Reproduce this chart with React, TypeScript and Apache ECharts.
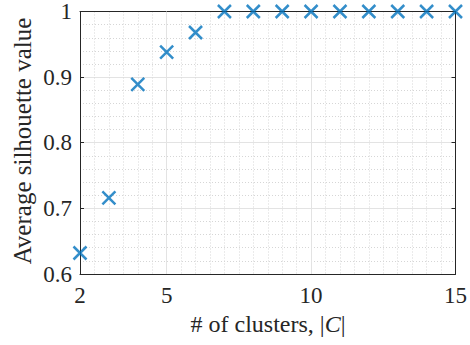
import React, { useEffect, useRef } from "react";
import * as echarts from "echarts";

const clusters = [2, 3, 4, 5, 6, 7, 8, 9, 10, 11, 12, 13, 14, 15];
const silhouette = [0.632, 0.716, 0.889, 0.938, 0.968, 1, 1, 1, 1, 1, 1, 1, 1, 1];
const xTicks = [2, 5, 10, 15];
const xMajorGrid = [5, 10];
const xTitle = "# of clusters, |{c|C}|";
const yTitle = "Average silhouette value";
const FONT = "Liberation Serif";

export default function App() {
  const ref = useRef<HTMLDivElement>(null);
  useEffect(() => {
    document.body.style.margin = "0";
    const chart = echarts.init(ref.current!, null, { renderer: "svg" });
    const axisLineColor = "#262626";
    const xCommon = { type: "value" as const, min: 2, max: 15, interval: 0.5 };
    const yCommon = { type: "value" as const, min: 0.6, max: 1, interval: 0.1 };
    chart.setOption({
      animation: false,
      backgroundColor: "#ffffff",
      textStyle: { fontFamily: FONT },
      grid: { left: 80, right: 13, top: 11, bottom: 71, containLabel: false },
      graphic: [
        {
          type: "text",
          x: 268,
          y: 324,
          style: {
            text: xTitle,
            fontFamily: FONT,
            fontSize: 24,
            fill: "#262626",
            align: "center",
            verticalAlign: "middle",
            rich: { c: { fontFamily: FONT, fontSize: 24, fontStyle: "italic", fill: "#262626" } },
          },
        },
        {
          type: "text",
          x: 22,
          y: 141,
          rotation: Math.PI / 2,
          style: {
            text: yTitle,
            fontFamily: FONT,
            fontSize: 25,
            fill: "#262626",
            align: "center",
            verticalAlign: "middle",
          },
        },
      ],
      xAxis: [
        {
          ...xCommon,
          position: "bottom",
          axisLine: { show: true, onZero: false, lineStyle: { color: axisLineColor, width: 1 } },
          axisTick: { show: true, inside: true, length: 4, customValues: xTicks, lineStyle: { color: axisLineColor } },
          axisLabel: {
            show: true,
            customValues: xTicks,
            margin: 10,
            color: "#262626",
            fontFamily: FONT,
            fontSize: 23,
            formatter: (v: number) => (xTicks.includes(v) ? String(v) : ""),
          },
          splitLine: { show: false },
        },
        {
          ...xCommon,
          position: "top",
          axisLine: { show: true, onZero: false, lineStyle: { color: axisLineColor, width: 1 } },
          axisTick: { show: false },
          axisLabel: { show: false },
          splitLine: { show: true, lineStyle: { color: "#d6d6d6", type: [1, 2], width: 1 } },
        },
      ],
      yAxis: [
        {
          ...yCommon,
          position: "left",
          axisLine: { show: true, onZero: false, lineStyle: { color: axisLineColor, width: 1 } },
          axisTick: { show: true, inside: true, length: 4, lineStyle: { color: axisLineColor } },
          axisLabel: {
            margin: 8,
            color: "#262626",
            fontFamily: FONT,
            fontSize: 23,
            formatter: (v: number) => (Math.abs(v - 1) < 1e-9 ? "1" : v.toFixed(1)),
          },
          splitLine: { show: true, lineStyle: { color: "#e3e3e3", width: 1 } },
          minorTick: { show: false, splitNumber: 5 },
          minorSplitLine: { show: true, lineStyle: { color: "#d6d6d6", type: [1, 2], width: 1 } },
        },
        {
          ...yCommon,
          position: "right",
          axisLine: { show: true, onZero: false, lineStyle: { color: axisLineColor, width: 1 } },
          axisTick: { show: true, inside: true, length: 4, lineStyle: { color: axisLineColor } },
          axisLabel: { show: false },
          splitLine: { show: false },
        },
      ],
      series: [
        {
          type: "scatter",
          xAxisIndex: 0,
          yAxisIndex: 0,
          data: [],
          silent: true,
          z: 1,
          markLine: {
            silent: true,
            symbol: "none",
            label: { show: false },
            lineStyle: { color: "#e3e3e3", type: "solid", width: 1 },
            data: xMajorGrid.map((v) => ({ xAxis: v })),
          },
        },
        {
          type: "scatter",
          xAxisIndex: 0,
          yAxisIndex: 0,
          clip: false,
          z: 5,
          symbol: "path://M0,0L10,10M10,0L0,10",
          symbolSize: 13,
          itemStyle: { color: "none", borderColor: "#0072BD", borderWidth: 2.5 },
          data: clusters.map((c, i) => [c, silhouette[i]]),
        },
      ],
    });
    return () => chart.dispose();
  }, []);
  return <div ref={ref} style={{ width: 470, height: 345 }} />;
}
